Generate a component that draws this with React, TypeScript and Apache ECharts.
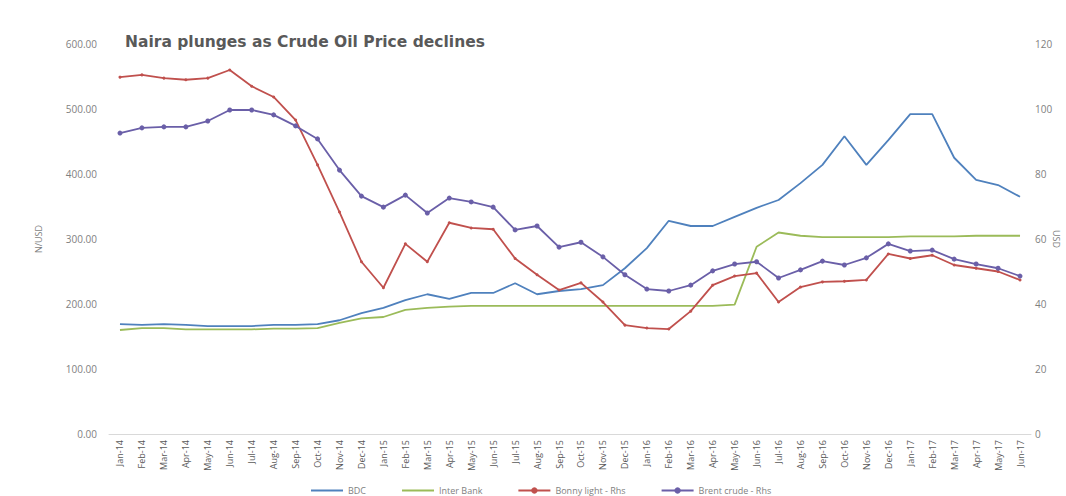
import React, { useEffect, useRef } from "react";
import * as echarts from "echarts";

const months = [
  "Jan-14","Feb-14","Mar-14","Apr-14","May-14","Jun-14","Jul-14","Aug-14","Sep-14","Oct-14","Nov-14","Dec-14",
  "Jan-15","Feb-15","Mar-15","Apr-15","May-15","Jun-15","Jul-15","Aug-15","Sep-15","Oct-15","Nov-15","Dec-15",
  "Jan-16","Feb-16","Mar-16","Apr-16","May-16","Jun-16","Jul-16","Aug-16","Sep-16","Oct-16","Nov-16","Dec-16",
  "Jan-17","Feb-17","Mar-17","Apr-17","May-17","Jun-17",
];

const bdc = [
  169,168,169,168,166,166,166,168,168,169,175,186,
  194,206,215,208,217,217,232,215,220,223,229,255,
  286,328,320,320,334,348,360,386,414,458,414,452,
  492,492,425,391,383,365,
];

const interBank = [
  160,163,163,161,161,161,161,162,162,163,171,178,
  180,191,194,196,197,197,197,197,197,197,197,197,
  197,197,197,197,199,288,310,305,303,303,303,303,
  304,304,304,305,305,305,
];

const bonnyLight = [
  109.8,110.5,109.5,109,109.5,112,107,103.7,96.6,82.8,68.3,53,
  45,58.5,53,65,63.4,63,54,49,44.3,46.5,40.6,33.5,
  32.6,32.3,37.8,45.8,48.6,49.5,40.6,45.2,46.8,47,47.4,55.4,
  54,55,52,51,50,47.4,
];

const brentCrude = [
  92.6,94.2,94.5,94.5,96.3,99.7,99.7,98.2,94.8,90.8,81.2,73.2,
  69.8,73.5,68,72.6,71.4,69.8,62.8,64,57.5,59,54.5,49,
  44.6,44,45.8,50.2,52.3,53,48,50.5,53.2,52,54.2,58.5,
  56.3,56.6,53.8,52.3,51,48.6,
];

const seriesNames = ["BDC", "Inter Bank", "Bonny light - Rhs", "Brent crude - Rhs"];
const title = "Naira plunges as Crude Oil Price declines";
const rightAxisName = "USD";

export default function App() {
  const ref = useRef<HTMLDivElement>(null);
  useEffect(() => {
    if (!ref.current) return;
    const chart = echarts.init(ref.current, null, { renderer: "svg" });
    const font = "Open Sans";
    chart.setOption({
      animation: false,
      backgroundColor: "#ffffff",
      textStyle: { fontFamily: font },
      title: {
        text: title,
        left: 120,
        top: 29,
        textStyle: { fontSize: 15.5, fontWeight: "bold", color: "#595959", fontFamily: "DejaVu Sans" },
      },
      legend: {
        left: 305,
        top: 481,
        itemWidth: 32,
        itemHeight: 8,
        itemGap: 35,
        textStyle: { fontSize: 9, color: "#7f7f7f" },
        data: [
          { name: seriesNames[0], itemStyle: { opacity: 0 } },
          { name: seriesNames[1], itemStyle: { opacity: 0 } },
          { name: seriesNames[2] },
          { name: seriesNames[3] },
        ],
      },
      graphic: [
        {
          type: "text",
          x: 1056,
          y: 239,
          rotation: -Math.PI / 2,
          style: {
            text: rightAxisName,
            fontSize: 9,
            fontFamily: font,
            fill: "#7f7f7f",
            align: "center",
            verticalAlign: "middle",
          },
        },
      ],
      grid: { left: 109, right: 35, top: 44, bottom: 62, containLabel: false, outerBoundsMode: "none" },
      xAxis: {
        type: "category",
        data: months,
        boundaryGap: true,
        axisLine: { lineStyle: { color: "#d9d9d9" } },
        axisTick: { show: false },
        axisLabel: { rotate: 90, fontSize: 9, color: "#595959", interval: 0, margin: 6 },
      },
      yAxis: [
        {
          type: "value",
          min: 0,
          max: 600,
          interval: 100,
          name: "N/USD",
          nameLocation: "middle",
          nameGap: 66,
          nameTextStyle: { fontSize: 9, color: "#7f7f7f" },
          axisLabel: { fontSize: 10, color: "#7f7f7f", formatter: (v: number) => v.toFixed(2), margin: 12 },
          axisLine: { show: false },
          axisTick: { show: false },
          splitLine: { show: false },
        },
        {
          type: "value",
          min: 0,
          max: 120,
          interval: 20,
          axisLabel: { fontSize: 10, color: "#7f7f7f", margin: 4 },
          axisLine: { show: false },
          axisTick: { show: false },
          splitLine: { show: false },
        },
      ],
      series: [
        {
          name: seriesNames[0],
          type: "line",
          yAxisIndex: 0,
          data: bdc,
          symbol: "none",
          lineStyle: { color: "#4f81bd", width: 1.8 },
          itemStyle: { color: "#4f81bd" },
        },
        {
          name: seriesNames[1],
          type: "line",
          yAxisIndex: 0,
          data: interBank,
          symbol: "none",
          lineStyle: { color: "#9bbb59", width: 1.8 },
          itemStyle: { color: "#9bbb59" },
        },
        {
          name: seriesNames[2],
          type: "line",
          yAxisIndex: 1,
          data: bonnyLight,
          symbol: "circle",
          symbolSize: 3,
          lineStyle: { color: "#c0504d", width: 1.8 },
          itemStyle: { color: "#c0504d" },
        },
        {
          name: seriesNames[3],
          type: "line",
          yAxisIndex: 1,
          data: brentCrude,
          symbol: "circle",
          symbolSize: 5,
          lineStyle: { color: "#6a5fa8", width: 1.8 },
          itemStyle: { color: "#6a5fa8" },
        },
      ],
    });
    return () => chart.dispose();
  }, []);
  return (
    <div
      ref={ref}
      style={{ position: "fixed", left: 0, top: 0, width: 1066, height: 496 }}
    />
  );
}
